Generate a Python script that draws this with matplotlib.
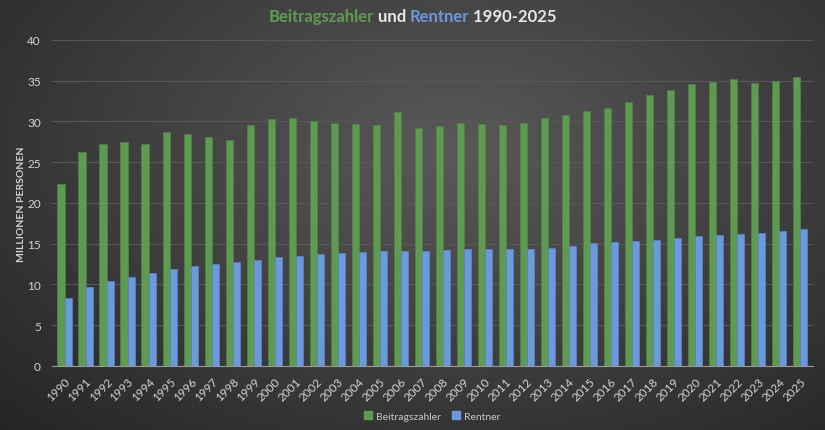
import numpy as np
import matplotlib.pyplot as plt
from matplotlib.patches import Patch

# Daten (Millionen Personen)
jahre = [str(j) for j in range(1990, 2026)]
beitragszahler = [22.3, 26.2, 27.25, 27.5, 27.2, 28.7, 28.45, 28.1, 27.75, 29.5,
                  30.3, 30.4, 30.1, 29.8, 29.7, 29.5, 31.2, 29.2, 29.4, 29.75,
                  29.7, 29.6, 29.85, 30.45, 30.8, 31.3, 31.7, 32.4, 33.2, 33.9,
                  34.6, 34.8, 35.2, 34.75, 34.9, 35.4]
rentner = [8.3, 9.7, 10.4, 10.9, 11.35, 11.9, 12.2, 12.5, 12.8, 13.0,
           13.3, 13.5, 13.7, 13.9, 14.0, 14.1, 14.1, 14.15, 14.2, 14.3,
           14.35, 14.35, 14.35, 14.4, 14.7, 15.1, 15.2, 15.3, 15.4, 15.7,
           15.9, 16.0, 16.2, 16.35, 16.55, 16.8]

gruen = '#5f9a52'
blau = '#6c98dc'
text_farbe = '#d4d4d4'

plt.rcParams['font.family'] = ['Lato', 'DejaVu Sans']

fig = plt.figure(figsize=(8.25, 4.31), dpi=100)

# Hintergrund mit radialem Verlauf
bg = fig.add_axes([0, 0, 1, 1], zorder=0)
gx, gy = np.meshgrid(np.linspace(0, 1, 400), np.linspace(0, 1, 220))
d = np.sqrt(((gx - 0.55) / 0.75) ** 2 + ((gy - 0.35) / 0.9) ** 2)
shade = np.clip(0.35 - 0.2 * d, 0.14, 0.35)
bg.imshow(np.dstack([shade] * 3), extent=[0, 1, 0, 1], aspect='auto', origin='upper')
bg.axis('off')

ax = fig.add_axes([0.063, 0.149, 0.922, 0.756], zorder=1)
ax.patch.set_alpha(0)

x = np.arange(len(jahre))
w = 0.34
ax.bar(x - w / 2, beitragszahler, w, color=gruen, edgecolor='#4f8444', linewidth=0.5, zorder=3)
ax.bar(x + w / 2, rentner, w, color=blau, edgecolor='#5b86c8', linewidth=0.5, zorder=3)

ax.set_ylim(0, 40)
ax.set_xlim(-0.6, len(jahre) - 0.4)
ax.set_yticks(range(0, 41, 5))
ax.set_xticks(x)
ax.set_xticklabels(jahre, rotation=45, ha='right', rotation_mode='anchor')
ax.tick_params(axis='both', length=0, colors=text_farbe, labelsize=8.5)
ax.tick_params(axis='x', pad=7)
ax.tick_params(axis='y', pad=8)
ax.grid(axis='y', color='#585858', linewidth=0.8, zorder=0)
for s in ['top', 'right', 'left']:
    ax.spines[s].set_visible(False)
ax.spines['bottom'].set_color('#9a9a9a')
ax.set_ylabel('MILLIONEN PERSONEN', color=text_farbe, fontsize=7.5, fontweight='bold', labelpad=1)

# Titel mit farbigen Wörtern
teile = [('Beitragszahler', gruen), (' und ', '#e8e8e8'), ('Rentner', blau), (' 1990-2025', '#e8e8e8')]
renderer = fig.canvas.get_renderer()
texte = []
for t, c in teile:
    texte.append(fig.text(0, 0.96, t, color=c, fontsize=12, fontweight='bold', va='center'))
breiten = [tx.get_window_extent(renderer).width for tx in texte]
start = (825 - sum(breiten)) / 2
for tx, b in zip(texte, breiten):
    tx.set_x(start / 825)
    start += b

ax.legend(handles=[Patch(color=gruen, label='Beitragszahler'), Patch(color=blau, label='Rentner')],
          loc='center', bbox_to_anchor=(0.5, -0.155), ncol=2, frameon=False,
          fontsize=7.5, labelcolor='#c8c8c8', handlelength=0.8, handleheight=0.8,
          handletextpad=0.4, columnspacing=1.0)

plt.savefig('out.png', dpi=100)
